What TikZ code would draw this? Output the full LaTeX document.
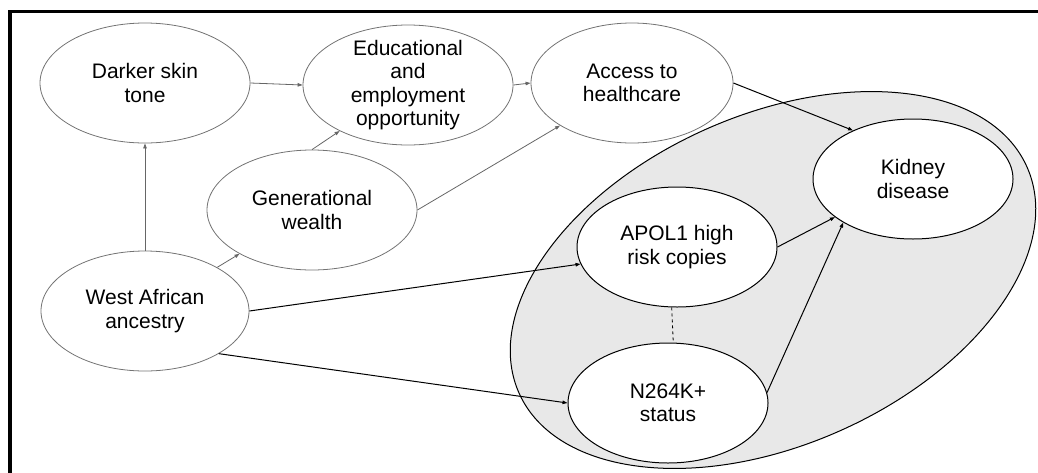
\documentclass[tikz,border=0pt]{standalone}
\usepackage{fontspec}
\setmainfont{Liberation Sans}
\usetikzlibrary{shapes.geometric,arrows.meta,backgrounds}

\begin{document}
\begin{tikzpicture}[x=1pt,y=-1pt]
    % `factor' is used for the grey social nodes, `genetic' for the black ones.
    % `surround' is the shaded region round the genetic part.
    \tikzstyle{factor} = [draw=black!55,line width=0.8pt,ellipse,align=center,
      inner sep=-8pt,minimum width=210pt,minimum height=120pt,
      font=\fontsize{21}{23.5}\selectfont]
    \tikzstyle{genetic} = [factor,draw=black,fill=white,line width=1pt,minimum width=200pt]
    \tikzstyle{surround} = [draw=black,fill=black!9,line width=1pt,ellipse,
      minimum width=556pt,minimum height=330pt,rotate=24]
    \tikzstyle{soft} = [draw=black!60,line width=0.8pt,-{Triangle[length=5pt,width=3.5pt]}]
    \tikzstyle{hard} = [draw=black,line width=1pt,-{Triangle[length=5pt,width=3.5pt]}]
    %
    \useasboundingbox (0,0) rectangle (1038,472);
    \clip (0,0) rectangle (1038,472);
    \draw[line width=3.6pt] (10,490) -- (10,11.5) -- (1060,11.5);
    %
    \node[surround] (region) at (773,280) {};
    %
    \node[factor] (dark) at (145,83) {Darker skin\\tone};
    \node[factor] (edu) at (408,85) {Educational\\and\\employment\\opportunity};
    \node[factor,minimum width=202pt] (care) at (632,83) {Access to\\healthcare};
    \node[factor] (wealth) at (312,210) {Generational\\wealth};
    \node[factor,minimum width=208pt] (west) at (145,311) {West African\\ancestry};
    \node[genetic] (kidney) at (913,179) {Kidney\\disease};
    \node[genetic] (apol) at (677,247) {APOL1 high\\risk copies};
    \node[genetic] (nk) at (668,403) {N264K+\\status};
    %
    % Draw edges.
    \draw[soft] (west.north) -- (dark.south);
    \draw[soft] (dark.east) -- (edu.west);
    \draw[soft] (edu.east) -- (care.west);
    \draw[soft] (west) -- (wealth);
    \draw[soft] (wealth.north) -- (edu);
    \draw[soft] (wealth.east) -- (care);
    \draw[hard] (care.east) -- (kidney.141);
    \draw[hard] (west.east) -- (apol.190);
    \draw[hard] (west.-30) -- (nk.west);
    \draw[hard] (apol.east) -- (kidney.206);
    \draw[hard] (nk.6) -- (kidney.212);
    \draw[dashed,line width=0.8pt] (apol.-95) -- (nk.85);
\end{tikzpicture}
\end{document}
